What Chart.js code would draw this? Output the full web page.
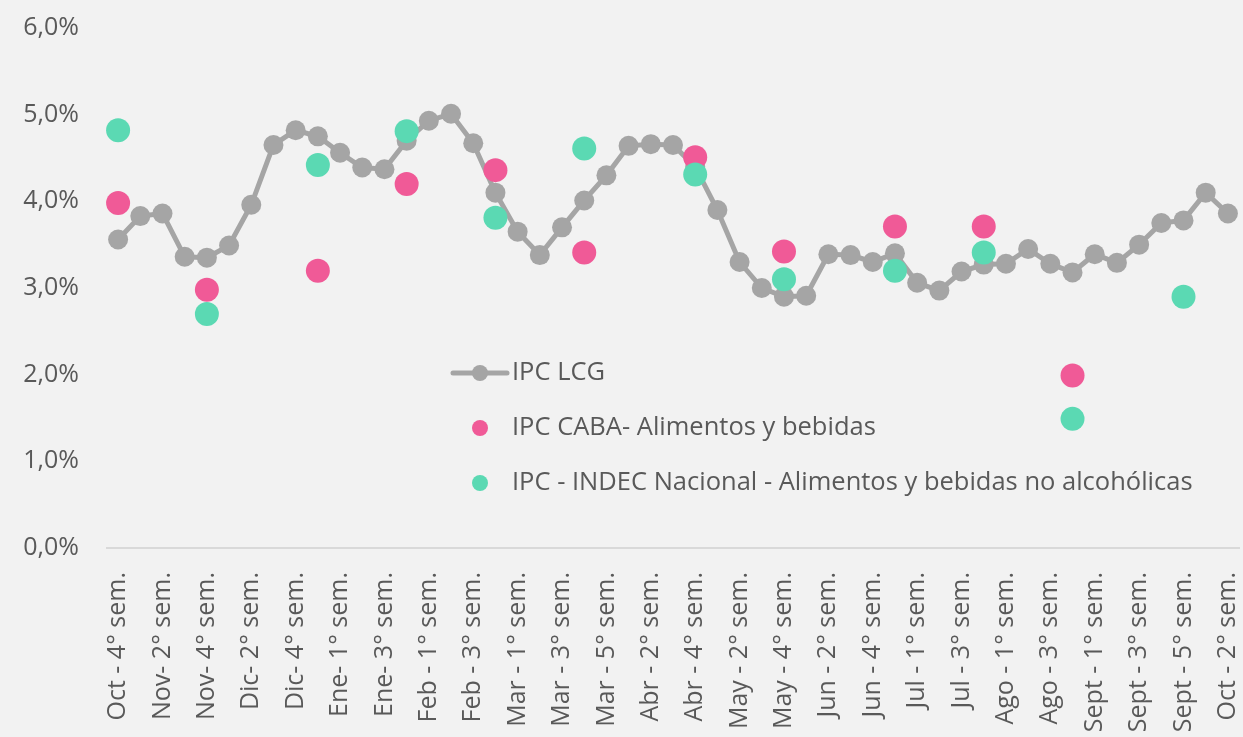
<!DOCTYPE html>
<html>
<head>
<meta charset="utf-8">
<script src="https://cdn.jsdelivr.net/npm/chart.js@4/dist/chart.umd.min.js"></script>
<style>
  body { margin: 0; background: #f2f2f2; }
  #wrap { width: 1243px; height: 737px; }
</style>
</head>
<body>
<div id="wrap"><canvas id="ipcChart" width="1243" height="737"></canvas></div>
<script>
// semanas (solo se rotulan las pares)
var semanas = [
  "Oct - 4° sem.", "Nov- 1° sem.", "Nov- 2° sem.", "Nov- 3° sem.", "Nov- 4° sem.",
  "Dic- 1° sem.", "Dic- 2° sem.", "Dic- 3° sem.", "Dic- 4° sem.", "Dic- 5° sem.",
  "Ene- 1° sem.", "Ene- 2° sem.", "Ene- 3° sem.", "Ene- 4° sem.", "Feb - 1° sem.",
  "Feb - 2° sem.", "Feb - 3° sem.", "Feb - 4° sem.", "Mar - 1° sem.", "Mar - 2° sem.",
  "Mar - 3° sem.", "Mar - 4° sem.", "Mar - 5° sem.", "Abr - 1° sem.", "Abr - 2° sem.",
  "Abr - 3° sem.", "Abr - 4° sem.", "May - 1° sem.", "May - 2° sem.", "May - 3° sem.",
  "May - 4° sem.", "Jun - 1° sem.", "Jun - 2° sem.", "Jun - 3° sem.", "Jun - 4° sem.",
  "Jun - 5° sem.", "Jul - 1° sem.", "Jul - 2° sem.", "Jul - 3° sem.", "Jul - 4° sem.",
  "Ago - 1° sem.", "Ago - 2° sem.", "Ago - 3° sem.", "Ago - 4° sem.", "Sept - 1° sem.",
  "Sept - 2° sem.", "Sept - 3° sem.", "Sept - 4° sem.", "Sept - 5° sem.", "Oct - 1° sem.",
  "Oct - 2° sem."
];

var ipcLCG = [
  3.56, 3.83, 3.86, 3.36, 3.35, 3.49, 3.96, 4.65, 4.82, 4.75,
  4.56, 4.39, 4.37, 4.70, 4.93, 5.01, 4.67, 4.10, 3.65, 3.38,
  3.70, 4.01, 4.30, 4.64, 4.66, 4.65, 4.40, 3.90, 3.30, 3.00,
  2.90, 2.91, 3.39, 3.38, 3.30, 3.40, 3.06, 2.97, 3.19, 3.27,
  3.28, 3.45, 3.28, 3.18, 3.39, 3.29, 3.50, 3.75, 3.78, 4.10,
  3.86
];

var n = null;
var ipcCABA = [
  3.98, n, n, n, 2.98, n, n, n, n, 3.20,
  n, n, n, 4.20, n, n, n, 4.36, n, n,
  n, 3.41, n, n, n, n, 4.51, n, n, n,
  3.42, n, n, n, n, 3.71, n, n, n, 3.71,
  n, n, n, 1.99, n, n, n, n, n, n,
  n
];

var ipcINDEC = [
  4.82, n, n, n, 2.70, n, n, n, n, 4.42,
  n, n, n, 4.81, n, n, n, 3.81, n, n,
  n, 4.61, n, n, n, n, 4.31, n, n, n,
  3.10, n, n, n, n, 3.20, n, n, n, 3.41,
  n, n, n, 1.49, n, n, n, n, 2.90, n,
  n
];

var yTicks = [0, 1, 2, 3, 4, 5, 6];

var gris = "#a5a5a5", rosa = "#f05a97", verde = "#5bd9b3", texto = "#595959";
var fuente = "'Open Sans', sans-serif";

// leyenda dentro del area del grafico, como en el original
var leyendaInterna = {
  id: "leyendaInterna",
  afterDatasetsDraw: function(chart) {
    var ctx = chart.ctx;
    var a = chart.chartArea;
    var x0 = a.left + 346, xt = a.left + 405;
    var filas = [a.top + 345, a.top + 400, a.top + 455];
    ctx.save();
    // linea con marcador
    ctx.strokeStyle = gris;
    ctx.lineWidth = 5;
    ctx.lineCap = "round";
    ctx.beginPath();
    ctx.moveTo(x0, filas[0]);
    ctx.lineTo(x0 + 54, filas[0]);
    ctx.stroke();
    ctx.fillStyle = gris;
    ctx.beginPath(); ctx.arc(x0 + 27, filas[0], 8, 0, Math.PI * 2); ctx.fill();
    ctx.fillStyle = rosa;
    ctx.beginPath(); ctx.arc(x0 + 27, filas[1], 8, 0, Math.PI * 2); ctx.fill();
    ctx.fillStyle = verde;
    ctx.beginPath(); ctx.arc(x0 + 27, filas[2], 8, 0, Math.PI * 2); ctx.fill();

    ctx.fillStyle = texto;
    ctx.font = "25.5px " + fuente;
    ctx.textBaseline = "middle";
    ctx.textAlign = "left";
    chart.data.datasets.forEach(function(ds, i) {
      ctx.fillText(ds.label, xt, filas[i]);
    });
    ctx.restore();
  }
};

new Chart(document.getElementById("ipcChart"), {
  type: "line",
  data: {
    labels: semanas,
    datasets: [
      {
        label: "IPC LCG",
        data: ipcLCG,
        borderColor: gris,
        backgroundColor: gris,
        borderWidth: 5,
        pointRadius: 10,
        pointBorderWidth: 0,
        pointBackgroundColor: gris,
        tension: 0,
        order: 3
      }, {
        label: "IPC CABA- Alimentos y bebidas",
        data: ipcCABA,
        showLine: false,
        pointRadius: 12,
        pointBorderWidth: 0,
        pointBackgroundColor: rosa,
        backgroundColor: rosa,
        borderColor: rosa,
        order: 2
      }, {
        label: "IPC - INDEC Nacional - Alimentos y bebidas no alcohólicas",
        data: ipcINDEC,
        showLine: false,
        pointRadius: 12,
        pointBorderWidth: 0,
        pointBackgroundColor: verde,
        backgroundColor: verde,
        borderColor: verde,
        order: 1
      }
    ]
  },
  options: {
    responsive: false,
    animation: false,
    spanGaps: false,
    layout: { autoPadding: false, padding: { top: 28, right: 4, left: 0, bottom: 0 } },
    plugins: {
      legend: { display: false },
      tooltip: { enabled: false }
    },
    scales: {
      x: {
        offset: true,
        grid: { display: false },
        border: { display: true, color: "#d9d9d9", width: 2 },
        ticks: {
          autoSkip: false,
          maxRotation: 90,
          minRotation: 90,
          padding: 16,
          color: texto,
          font: { family: fuente, size: 25 },
          callback: function(v, i) {
            return i % 2 === 0 ? semanas[i] : "";
          }
        },
        afterFit: function(scale) {
          scale.height = 189;
          scale.paddingLeft = 0;
          scale.paddingRight = 0;
        }
      },
      y: {
        min: yTicks[0],
        max: yTicks[yTicks.length - 1],
        grid: { display: false },
        border: { display: false },
        afterBuildTicks: function(scale) {
          scale.ticks = yTicks.map(function(v) { return { value: v }; });
        },
        ticks: {
          padding: 20,
          color: texto,
          font: { family: fuente, size: 25 },
          callback: function(v) {
            return v.toFixed(1).replace(".", ",") + "%";
          }
        },
        afterFit: function(scale) {
          scale.width = 107;
          scale.paddingTop = 0;
          scale.paddingBottom = 0;
        }
      }
    }
  },
  plugins: [leyendaInterna]
});
</script>
</body>
</html>
